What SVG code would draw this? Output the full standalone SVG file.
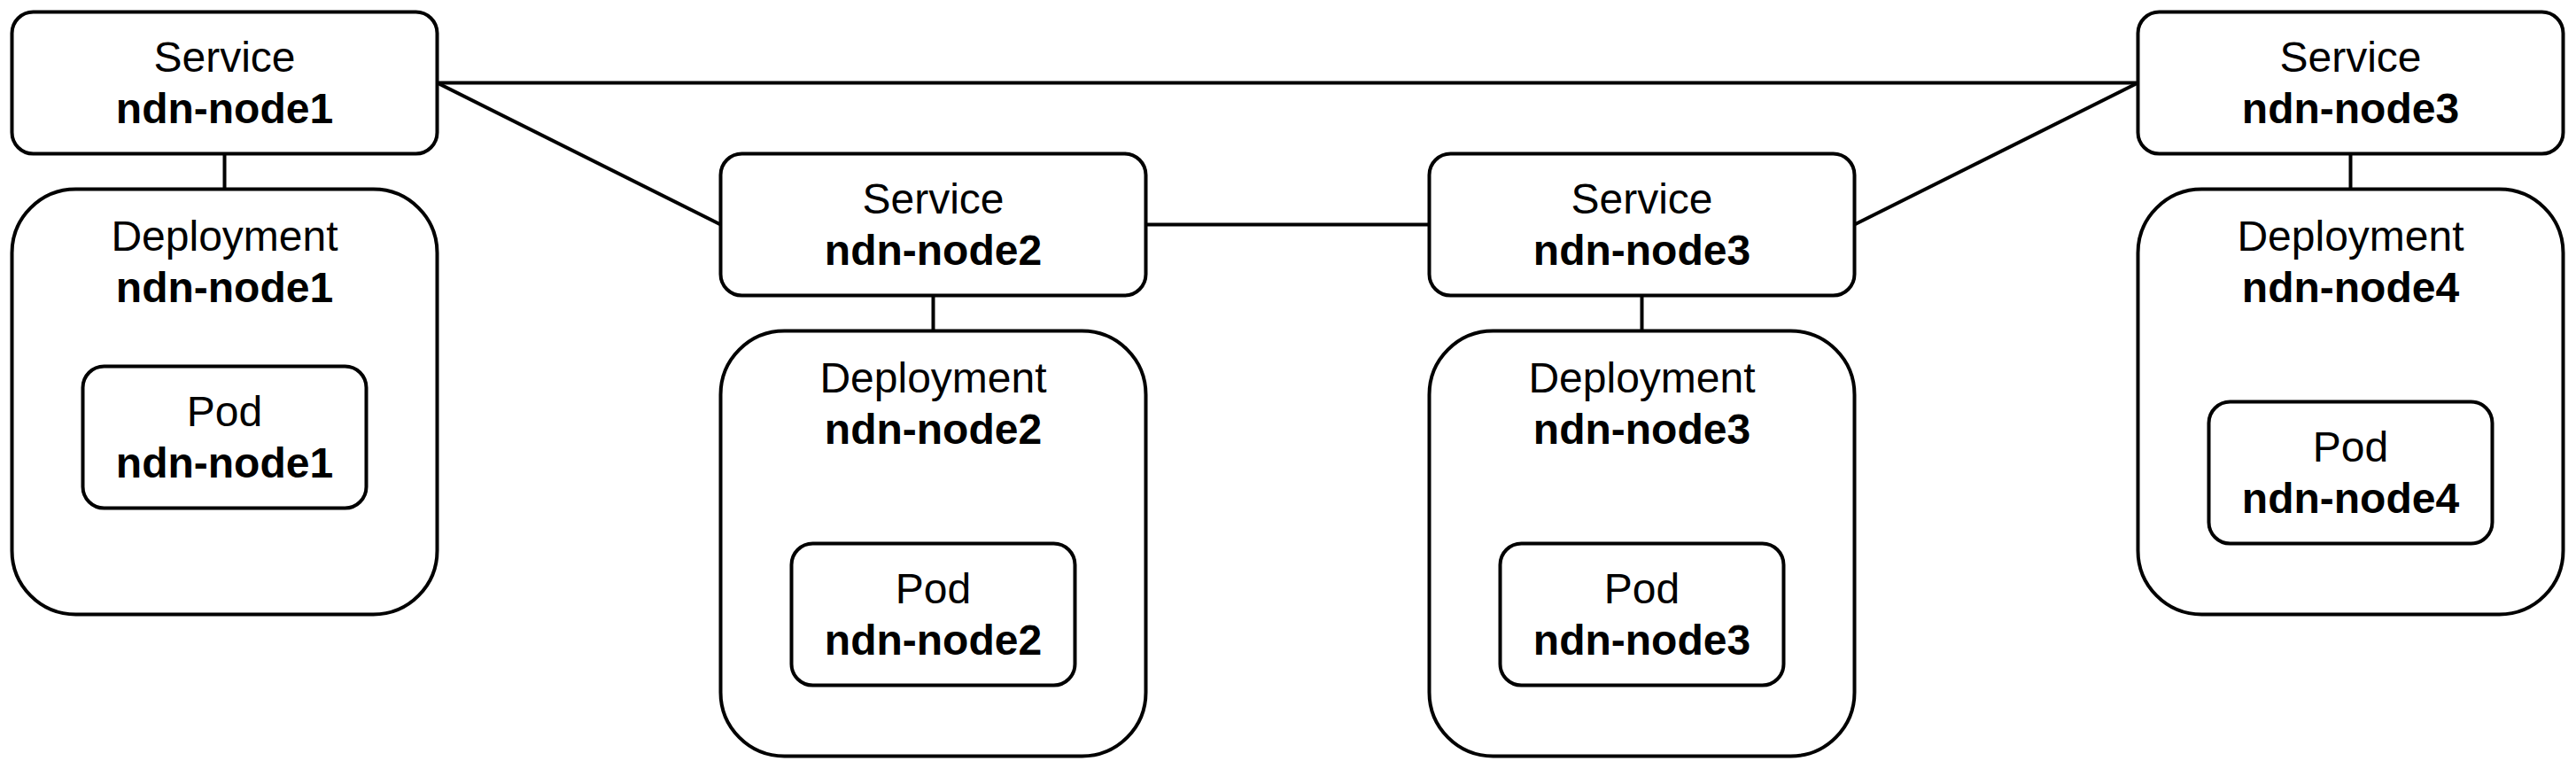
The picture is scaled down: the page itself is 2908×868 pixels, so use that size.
<svg xmlns="http://www.w3.org/2000/svg" width="2908" height="868" viewBox="0 0 2908 868">
<style>
.box{fill:#fff;stroke:#000;stroke-width:4}
.ln{fill:none;stroke:#000;stroke-width:4}
text{font-family:"Liberation Sans",Arial,Helvetica,sans-serif;font-size:48px;text-anchor:middle;fill:#000}
.b{font-weight:bold}
</style>
<rect width="2908" height="868" fill="#fff"/>
<g id="connectors">
<line class="ln" x1="493.5" y1="93.5" x2="2413.5" y2="93.5"/>
<line class="ln" x1="493.5" y1="93.5" x2="813.5" y2="253.5"/>
<line class="ln" x1="1293.5" y1="253.5" x2="1613.5" y2="253.5"/>
<line class="ln" x1="2093.5" y1="253.5" x2="2413.5" y2="93.5"/>
<line class="ln" x1="253.5" y1="173.5" x2="253.5" y2="213.5"/>
<line class="ln" x1="1053.5" y1="333.5" x2="1053.5" y2="373.5"/>
<line class="ln" x1="1853.5" y1="333.5" x2="1853.5" y2="373.5"/>
<line class="ln" x1="2653.5" y1="173.5" x2="2653.5" y2="213.5"/>
</g>
<g id="service1">
<rect class="box" x="13.5" y="13.5" width="480" height="160" rx="24"/>
<text x="253.5" y="80.5">Service</text>
<text class="b" x="253.5" y="138.5">ndn-node1</text>
</g>
<g id="deployment1">
<rect class="box" x="13.5" y="213.5" width="480" height="480" rx="72"/>
<text x="253.5" y="282.5">Deployment</text>
<text class="b" x="253.5" y="340.5">ndn-node1</text>
</g>
<g id="pod1">
<rect class="box" x="93.5" y="413.5" width="320" height="160" rx="24"/>
<text x="253.5" y="480.5">Pod</text>
<text class="b" x="253.5" y="538.5">ndn-node1</text>
</g>
<g id="service2">
<rect class="box" x="813.5" y="173.5" width="480" height="160" rx="24"/>
<text x="1053.5" y="240.5">Service</text>
<text class="b" x="1053.5" y="298.5">ndn-node2</text>
</g>
<g id="deployment2">
<rect class="box" x="813.5" y="373.5" width="480" height="480" rx="72"/>
<text x="1053.5" y="442.5">Deployment</text>
<text class="b" x="1053.5" y="500.5">ndn-node2</text>
</g>
<g id="pod2">
<rect class="box" x="893.5" y="613.5" width="320" height="160" rx="24"/>
<text x="1053.5" y="680.5">Pod</text>
<text class="b" x="1053.5" y="738.5">ndn-node2</text>
</g>
<g id="service3a">
<rect class="box" x="1613.5" y="173.5" width="480" height="160" rx="24"/>
<text x="1853.5" y="240.5">Service</text>
<text class="b" x="1853.5" y="298.5">ndn-node3</text>
</g>
<g id="deployment3">
<rect class="box" x="1613.5" y="373.5" width="480" height="480" rx="72"/>
<text x="1853.5" y="442.5">Deployment</text>
<text class="b" x="1853.5" y="500.5">ndn-node3</text>
</g>
<g id="pod3">
<rect class="box" x="1693.5" y="613.5" width="320" height="160" rx="24"/>
<text x="1853.5" y="680.5">Pod</text>
<text class="b" x="1853.5" y="738.5">ndn-node3</text>
</g>
<g id="service3b">
<rect class="box" x="2413.5" y="13.5" width="480" height="160" rx="24"/>
<text x="2653.5" y="80.5">Service</text>
<text class="b" x="2653.5" y="138.5">ndn-node3</text>
</g>
<g id="deployment4">
<rect class="box" x="2413.5" y="213.5" width="480" height="480" rx="72"/>
<text x="2653.5" y="282.5">Deployment</text>
<text class="b" x="2653.5" y="340.5">ndn-node4</text>
</g>
<g id="pod4">
<rect class="box" x="2493.5" y="453.5" width="320" height="160" rx="24"/>
<text x="2653.5" y="520.5">Pod</text>
<text class="b" x="2653.5" y="578.5">ndn-node4</text>
</g>
</svg>
